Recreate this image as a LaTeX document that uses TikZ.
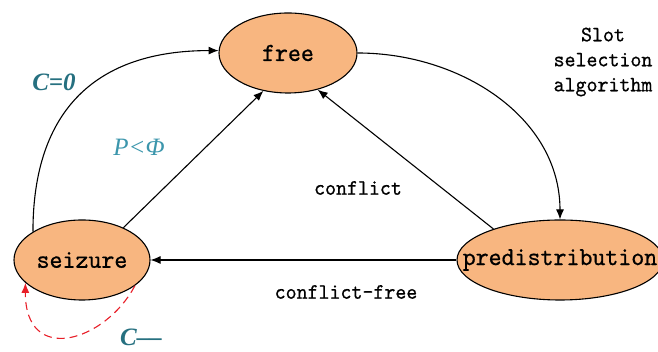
\documentclass[tikz,border=0pt]{standalone}
\usepackage{fontspec}
\newfontfamily\labelfont{Liberation Serif}
\newfontfamily\statefont{lmmono10-regular.otf}[FakeBold=0.6,FakeStretch=0.95]
\usetikzlibrary{shapes.geometric,arrows.meta}
\definecolor{stateorange}{RGB}{248,182,128}
\definecolor{tealdark}{RGB}{38,112,128}
\definecolor{teallight}{RGB}{60,150,172}
\definecolor{loopred}{RGB}{232,30,40}

\begin{document}
\begin{tikzpicture}[x=1pt,y=1pt,
  state/.style={ellipse,draw=black,line width=1.1pt,fill=stateorange,
    minimum height=80pt,inner sep=0pt,
    font=\fontsize{26}{30}\selectfont\statefont},
  edge/.style={line width=1.1pt,-{Latex[length=10pt,width=8pt]}},
  lbl/.style={font=\fontsize{22}{25}\selectfont\statefont},
  cond/.style={font=\fontsize{25}{28}\selectfont\labelfont\itshape},
  condbold/.style={font=\fontsize{25}{28}\selectfont\labelfont\bfseries\itshape}]
\useasboundingbox (0,0) rectangle (658,352);

% states
\node[state,minimum width=138pt] (free) at (288,299) {\makebox[0pt]{free}};
\node[state,minimum width=136pt] (seizure) at (82,92) {\makebox[0pt]{seizure}};
\node[state,minimum width=206pt] (pred) at (560,92) {\makebox[0pt]{predistribution}};

% transitions
\draw[edge] (seizure.150) to[out=90,in=180,looseness=1.2] (free.178);
\draw[edge] (seizure.38) -- (free.237);
\draw[edge] (free.east) to[out=0,in=90] (pred.north);
\draw[edge] (pred.155) -- (free.309);
\draw[edge] (pred.west) -- (seizure.east);
\draw[loopred,line width=1.1pt,dash pattern=on 8pt off 5pt,
      -{Latex[length=10pt,width=8pt]}]
  (seizure.334) .. controls (105,10) and (25,-14) .. (seizure.202);

% labels
\node[condbold,text=tealdark] (c0) at (54,270) {C=0};
\node[cond,text=teallight] (pphi) at (139,205) {P<Φ};
\node[condbold,text=tealdark,inner sep=1pt] (cdec) at (141,15) {C\textendash\textendash};
\node[lbl] (conflict) at (358,164) {conflict};
\node[lbl] (cfree) at (346,60) {conflict-free};
\node[lbl,align=center] (algo) at (603,290) {Slot\\selection\\algorithm};
\end{tikzpicture}
\end{document}
